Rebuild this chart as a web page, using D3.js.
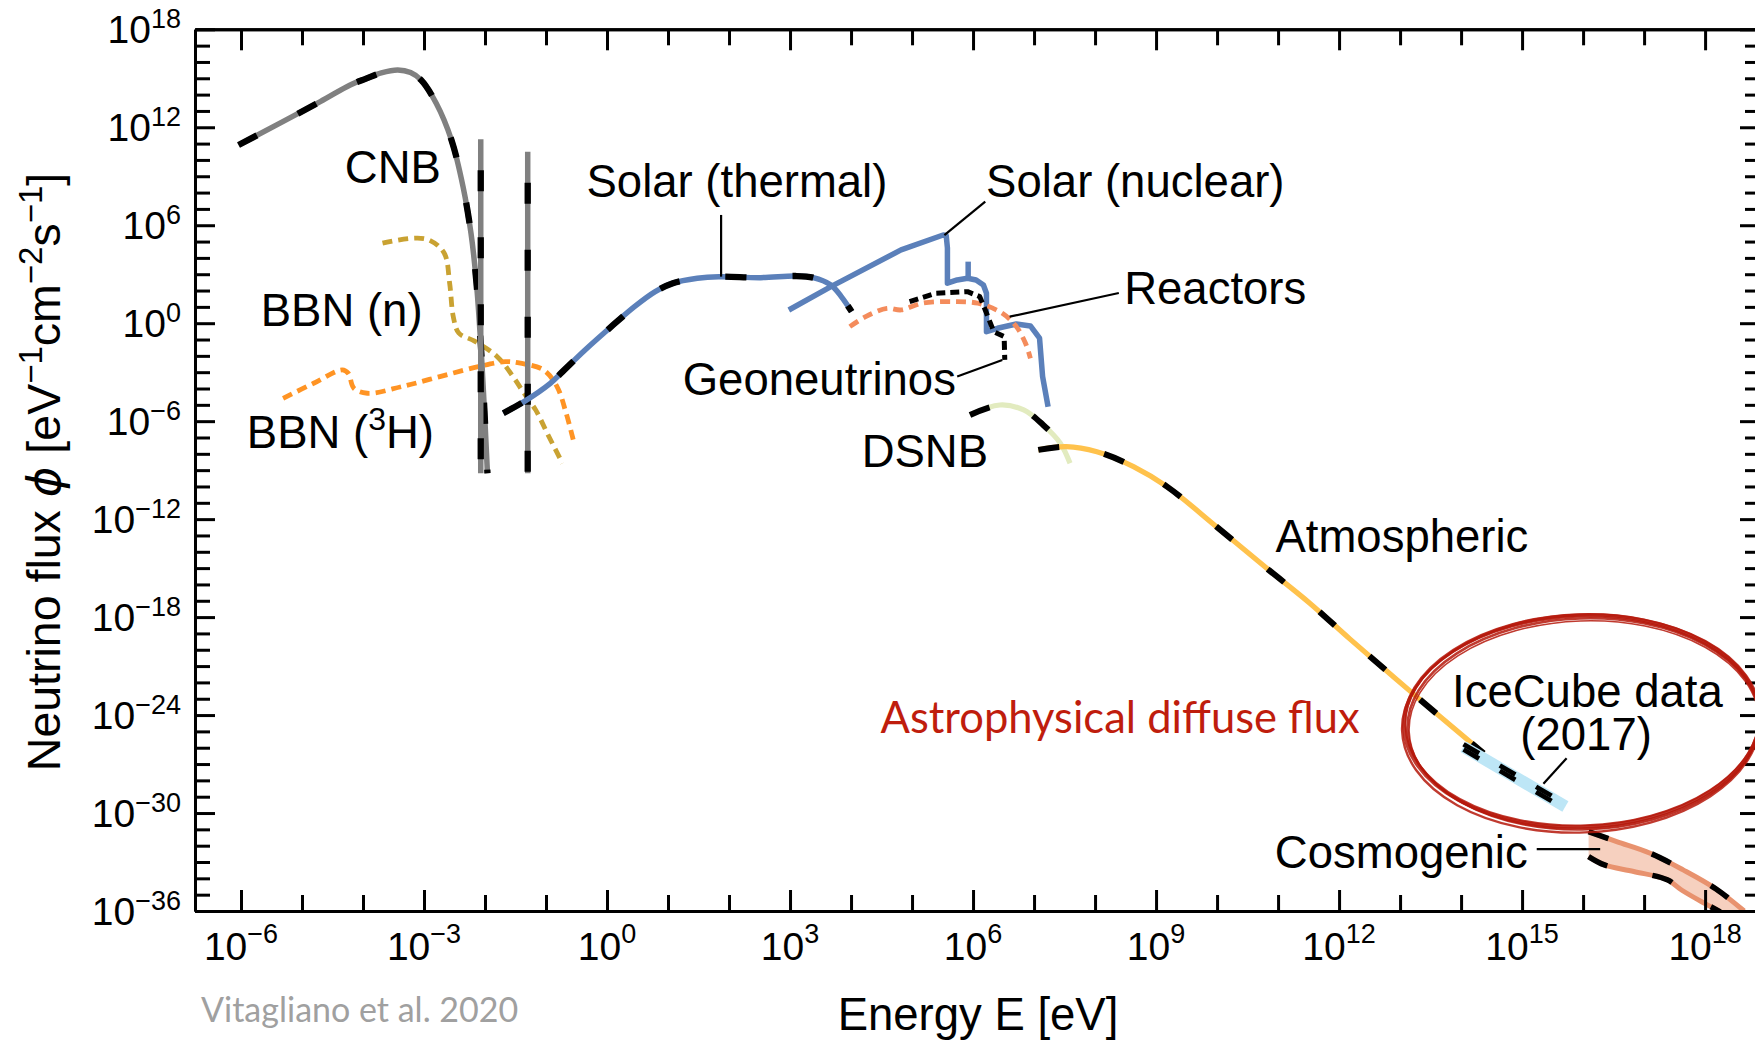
<!DOCTYPE html>
<html>
<head>
<meta charset="utf-8">
<script src="https://cdn.jsdelivr.net/npm/d3@7"></script>
<style>
  html, body { margin: 0; padding: 0; background: #fff; }
  svg { display: block; font-family: "Liberation Sans", Arial, Helvetica, sans-serif; }
</style>
</head>
<body>
<svg id="chart" width="1755" height="1042"></svg>
<script>
// Every curve is a list of [log10(E / eV), log10(phi / (eV^-1 cm^-2 s^-1))] pairs.

const cnbSpectrum = [[-6.04,10.91],[-4.70,13.57],[-4.21,14.59],[-3.95,14.98],[-3.70,15.33],[-3.43,15.51],
  [-3.22,15.35],[-3.05,14.90],[-2.80,13.47],[-2.55,11.22],[-2.36,8.36],[-2.23,5.51],[-2.14,2.45],
  [-2.05,-2.5],[-1.96,-9.19]];
// massive CNB states: energy, peak flux, lower end
const cnbLineEnergy = [-2.07, -1.30];
const cnbLineTop = [11.26, 10.50];
const cnbLineBottom = -9.19;

const bbnNeutron = [[-3.68,4.90],[-3.21,5.20],[-2.92,5.10],[-2.67,4.30],[-2.58,2.46],[-2.52,0.40],
  [-2.43,-0.60],[-2.17,-1.10],[-1.80,-2.05],[-1.54,-3.27],[-1.36,-4.29],[-1.17,-5.31],[-0.98,-6.74],[-0.73,-8.58]];
const bbnTritium = [[-5.31,-4.60],[-4.81,-3.68],[-4.34,-2.86],[-4.24,-3.07],[-4.15,-3.98],[-3.93,-4.29],
  [-3.36,-3.88],[-2.74,-3.27],[-2.11,-2.66],[-1.67,-2.35],[-1.42,-2.45],[-1.04,-2.86],[-0.82,-3.88],
  [-0.67,-5.51],[-0.54,-7.35]];

const solarThermal = [[-1.70,-5.51],[-1.36,-4.80],[-0.93,-3.68],[-0.70,-2.86],[-0.36,-1.64],[0.10,-0.11],
  [0.45,1.01],[0.79,1.93],[1.08,2.45],[1.48,2.75],[1.83,2.85],[2.52,2.79],[3.09,2.89],[3.38,2.79],
  [3.67,2.34],[3.84,1.63],[4.01,0.71]];
const solarNuclear = [[2.98,0.81],[3.67,2.24],[4.82,4.49],[5.51,5.40],[5.56,5.37],[5.58,4.60],[5.58,2.45],
  [5.74,2.65],[5.91,2.75],[6.05,2.65],[6.17,2.34],[6.22,1.83],[6.22,-0.52],[6.40,-0.31],[6.71,-0.05],
  [6.94,-0.17],[7.09,-0.92],[7.14,-3.27],[7.23,-5.11]];
const beryllium7Line = [5.92, 2.75, 3.77]; // energy, continuum level, line top

const reactors = [[3.98,-0.21],[4.24,0.40],[4.59,0.91],[4.82,0.81],[5.16,1.22],[5.68,1.32],[6.08,1.22],
  [6.48,0.61],[6.71,-0.21],[6.86,-1.23],[6.94,-2.15]];
const geoneutrinos = [[4.96,1.32],[5.39,1.83],[5.91,1.93],[6.11,1.63],[6.20,0.81],[6.34,-0.52],
  [6.51,-0.82],[6.52,-2.25]];
const dsnb = [[5.95,-5.62],[6.44,-5.01],[6.83,-5.31],[7.15,-6.23],[7.43,-7.35],[7.59,-8.58]];
const atmospheric = [[7.07,-7.76],[7.53,-7.56],[8.03,-7.87],[8.63,-8.78],[9.18,-10.01],[9.99,-12.46],
  [10.81,-15.00],[11.52,-17.15],[12.18,-19.35],[13.27,-22.87],[14.37,-26.34]];
const iceCube = [[14.04,-25.95],[15.71,-29.60]];
const cosmogenicUpper = [[16.09,-31.14],[16.55,-31.75],[17.10,-32.46],[17.64,-33.48],[18.18,-34.65],[18.64,-36.00]];
const cosmogenicLower = [[16.09,-32.67],[16.35,-33.18],[16.83,-33.58],[17.38,-34.09],[17.62,-34.73],[18.00,-35.55],[18.25,-36.05]];

const xMajorExp = [-6, -3, 0, 3, 6, 9, 12, 15, 18];
const yMajorExp = [18, 12, 6, 0, -6, -12, -18, -24, -30, -36];

// ---------------------------------------------------------------------------
const svg = d3.select("#chart");
svg.append("rect").attr("width", 1755).attr("height", 1042).attr("fill", "#fff");

const plot = { left: 195, right: 1760, top: 29.3, bottom: 911 };
const x = d3.scaleLog().domain([10 ** -6.754, 10 ** 18.9]).range([plot.left, plot.right]);
const y = d3.scaleLog().domain([1e-36, 1e18]).range([plot.bottom, plot.top]);
const X = e => x(10 ** e), Y = p => y(10 ** p);

svg.append("clipPath").attr("id", "plotclip").append("rect")
  .attr("x", plot.left).attr("y", plot.top)
  .attr("width", plot.right - plot.left).attr("height", plot.bottom - plot.top);
const g = svg.append("g").attr("clip-path", "url(#plotclip)");

const smooth = d3.line().x(d => X(d[0])).y(d => Y(d[1])).curve(d3.curveCatmullRom.alpha(0.5));
const straight = d3.line().x(d => X(d[0])).y(d => Y(d[1]));

const DASH = "21,46";
function curve(data, color, width, opts = {}) {
  const gen = opts.linear ? straight : smooth;
  g.append("path").attr("d", gen(data)).attr("fill", "none")
    .attr("stroke", color).attr("stroke-width", width)
    .attr("stroke-dasharray", opts.dash || null)
    .attr("stroke-linejoin", "round");
  if (opts.overlay) {
    g.append("path").attr("d", gen(data)).attr("fill", "none")
      .attr("stroke", "#000").attr("stroke-width", width + 0.8)
      .attr("stroke-dasharray", DASH).attr("stroke-dashoffset", opts.offset || 0);
  }
}

// BBN fluxes
curve(bbnNeutron, "#c9a232", 4.8, { dash: "10,6" });
curve(bbnTritium, "#ff9424", 4.8, { dash: "10,6" });

// cosmic neutrino background
curve(cnbSpectrum, "#808080", 5.5, { overlay: true });
cnbLineEnergy.forEach((e, i) => {
  const seg = [[e, cnbLineTop[i]], [e, cnbLineBottom]];
  curve(seg, "#808080", 5.5, { linear: true, overlay: true, offset: -31 });
});

// Sun
curve(solarThermal, "#5b80ba", 5.5, { overlay: true });
curve(solarNuclear, "#5b80ba", 5.5, { linear: true });
curve([[beryllium7Line[0], beryllium7Line[1]], [beryllium7Line[0], beryllium7Line[2]]], "#5b80ba", 5.5, { linear: true });

// reactors and geoneutrinos
curve(reactors, "#f48c5c", 4.8, { dash: "10,6" });
curve(geoneutrinos, "#000", 5, { dash: "9,5", linear: true });

// diffuse supernova background and atmospheric
curve(dsnb, "#e2ebbf", 5.2, { overlay: true });
curve(atmospheric, "#ffc24c", 5.2, { overlay: true });

// IceCube astrophysical flux
g.append("path").attr("d", straight(iceCube)).attr("stroke", "#bde6f6").attr("stroke-width", 12).attr("fill", "none");
[0.16, -0.16].forEach(s => {
  g.append("path").attr("d", straight(iceCube.map(d => [d[0], d[1] + s]))).attr("fill", "none")
    .attr("stroke", "#000").attr("stroke-width", 4.8).attr("stroke-dasharray", "18,24");
});

// cosmogenic band
const band = cosmogenicUpper.concat(cosmogenicLower.slice().reverse());
g.append("path").attr("d", straight(band) + "Z").attr("fill", "#f6d0bf").attr("stroke", "none");
[cosmogenicUpper, cosmogenicLower].forEach(edge => {
  g.append("path").attr("d", smooth(edge)).attr("fill", "none").attr("stroke", "#e8926e").attr("stroke-width", 5);
  g.append("path").attr("d", smooth(edge)).attr("fill", "none").attr("stroke", "#000")
    .attr("stroke-width", 5.5).attr("stroke-dasharray", DASH).attr("stroke-dashoffset", 0);
});

// ---------------------------------------------------------------------------
// frame and ticks
const allX = d3.range(-6, 19), allY = d3.range(-36, 19);
const xMinor = allX.filter(e => !xMajorExp.includes(e)).map(e => 10 ** e);
const xMajor = xMajorExp.map(e => 10 ** e);
const yMinor = allY.filter(e => !yMajorExp.includes(e)).map(e => 10 ** e);
const yMajor = yMajorExp.map(e => 10 ** e);

function axis(gen, pos, values, size) {
  const a = svg.append("g").attr("transform", pos)
    .call(gen.tickValues(values).tickSizeInner(size).tickSizeOuter(0).tickFormat(""));
  a.selectAll("line").attr("stroke", "#000").attr("stroke-width", 3);
  a.select(".domain").attr("stroke", "#000").attr("stroke-width", 3);
  return a;
}
axis(d3.axisBottom(x), `translate(0,${plot.bottom})`, xMajor, -21);
axis(d3.axisBottom(x), `translate(0,${plot.bottom})`, xMinor, -16);
axis(d3.axisTop(x), `translate(0,${plot.top})`, xMajor, -21);
axis(d3.axisTop(x), `translate(0,${plot.top})`, xMinor, -16);
axis(d3.axisLeft(y), `translate(${plot.left},0)`, yMajor, -20);
axis(d3.axisLeft(y), `translate(${plot.left},0)`, yMinor, -15);
axis(d3.axisRight(y), `translate(${plot.right},0)`, yMajor, -20);
axis(d3.axisRight(y), `translate(${plot.right},0)`, yMinor, -15);

const sup = e => (e < 0 ? "\u2212" + Math.abs(e) : String(e));
xMajorExp.forEach(e => {
  const t = svg.append("text").attr("x", X(e)).attr("y", 960).attr("text-anchor", "middle")
    .attr("font-size", 39).attr("fill", "#000");
  t.append("tspan").text("10");
  t.append("tspan").attr("dy", -17).attr("font-size", 27).text(sup(e));
});
yMajorExp.forEach(e => {
  const t = svg.append("text").attr("x", 181).attr("y", Y(e) + 14).attr("text-anchor", "end")
    .attr("font-size", 39).attr("fill", "#000");
  t.append("tspan").text("10");
  t.append("tspan").attr("dy", -15).attr("font-size", 27).text(sup(e));
});

// axis titles
svg.append("text").attr("x", 978).attr("y", 1030).attr("text-anchor", "middle")
  .attr("font-size", 45.5).text("Energy E [eV]");
const yt = svg.append("text").attr("transform", "translate(60,472) rotate(-90)")
  .attr("text-anchor", "middle").attr("font-size", 46.5);
yt.append("tspan").text("Neutrino flux ");
yt.append("tspan").attr("font-style", "italic").attr("font-family", "DejaVu Sans").text("\u03D5");
yt.append("tspan").text(" [eV");
yt.append("tspan").attr("dy", -18).attr("font-size", 33).text("\u22121");
yt.append("tspan").attr("dy", 18).text("cm");
yt.append("tspan").attr("dy", -18).attr("font-size", 33).text("\u22122");
yt.append("tspan").attr("dy", 18).text("s");
yt.append("tspan").attr("dy", -18).attr("font-size", 33).text("\u22121");
yt.append("tspan").attr("dy", 18).text("]");

// ---------------------------------------------------------------------------
// annotations
const ann = svg.append("g");
const leaders = [
  [[1.87, 6.63], [1.87, 2.85]],
  [[6.20, 7.44], [5.53, 5.40]],
  [[8.39, 1.85], [6.60, 0.40]],
  [[5.74, -3.27], [6.48, -2.25]],
  [[15.73, -26.64], [15.35, -28.21]],
  [[15.24, -32.21], [16.28, -32.21]]
];
leaders.forEach(l => ann.append("path").attr("d", straight(l)).attr("stroke", "#000").attr("stroke-width", 2.2));

const LABEL_SIZE = 45.5;
function label(txt, e, p, opts = {}) {
  const t = ann.append("text").attr("x", X(e)).attr("y", Y(p)).attr("text-anchor", "middle")
    .attr("font-size", opts.size || LABEL_SIZE).attr("fill", opts.color || "#000");
  if (opts.family) t.attr("font-family", opts.family);
  return t.text(txt);
}
label("CNB", -3.51, 8.59);
label("BBN (n)", -4.35, -0.17);
const tri = label("", -4.37, -7.64);
tri.append("tspan").text("BBN (");
tri.append("tspan").attr("dy", -18).attr("font-size", 32).text("3");
tri.append("tspan").attr("dy", 18).text("H)");
label("Solar (thermal)", 2.13, 7.73);
label("Solar (nuclear)", 8.66, 7.75);
label("Reactors", 9.97, 1.18);
label("Geoneutrinos", 3.48, -4.39);
label("DSNB", 5.21, -8.78);
label("Atmospheric", 13.03, -13.99);
label("IceCube data", 16.07, -23.48);
label("(2017)", 16.05, -26.13);
label("Cosmogenic", 13.02, -33.36);
label("Astrophysical diffuse flux", 8.41, -25.11, { size: 43.5, color: "#bf1d0d", family: "Lato, 'Open Sans', sans-serif" });

// hand-drawn ring around the IceCube data
const cx = X(15.98), cy = Y(-24.36);
[[0, 0, 178, 106, 3.6], [1.5, 2.5, 176, 105, 2.6], [-1, 3.5, 179, 108, 2.4], [0.5, -1, 177, 105.5, 2],
 [2, 4.5, 175, 104.5, 1.6]]
  .forEach(([dx, dy, rx, ry, w]) => {
    svg.append("ellipse").attr("cx", cx + dx).attr("cy", cy + dy).attr("rx", rx).attr("ry", ry)
      .attr("transform", `rotate(-2 ${cx} ${cy})`)
      .attr("fill", "none").attr("stroke", "#b5180a").attr("stroke-width", w).attr("opacity", 0.85);
  });

svg.append("text").attr("x", 201).attr("y", 1022).attr("font-size", 34)
  .attr("font-family", "Lato, 'Open Sans', sans-serif").attr("fill", "#a0a0a0")
  .text("Vitagliano et al. 2020");
</script>
</body>
</html>
